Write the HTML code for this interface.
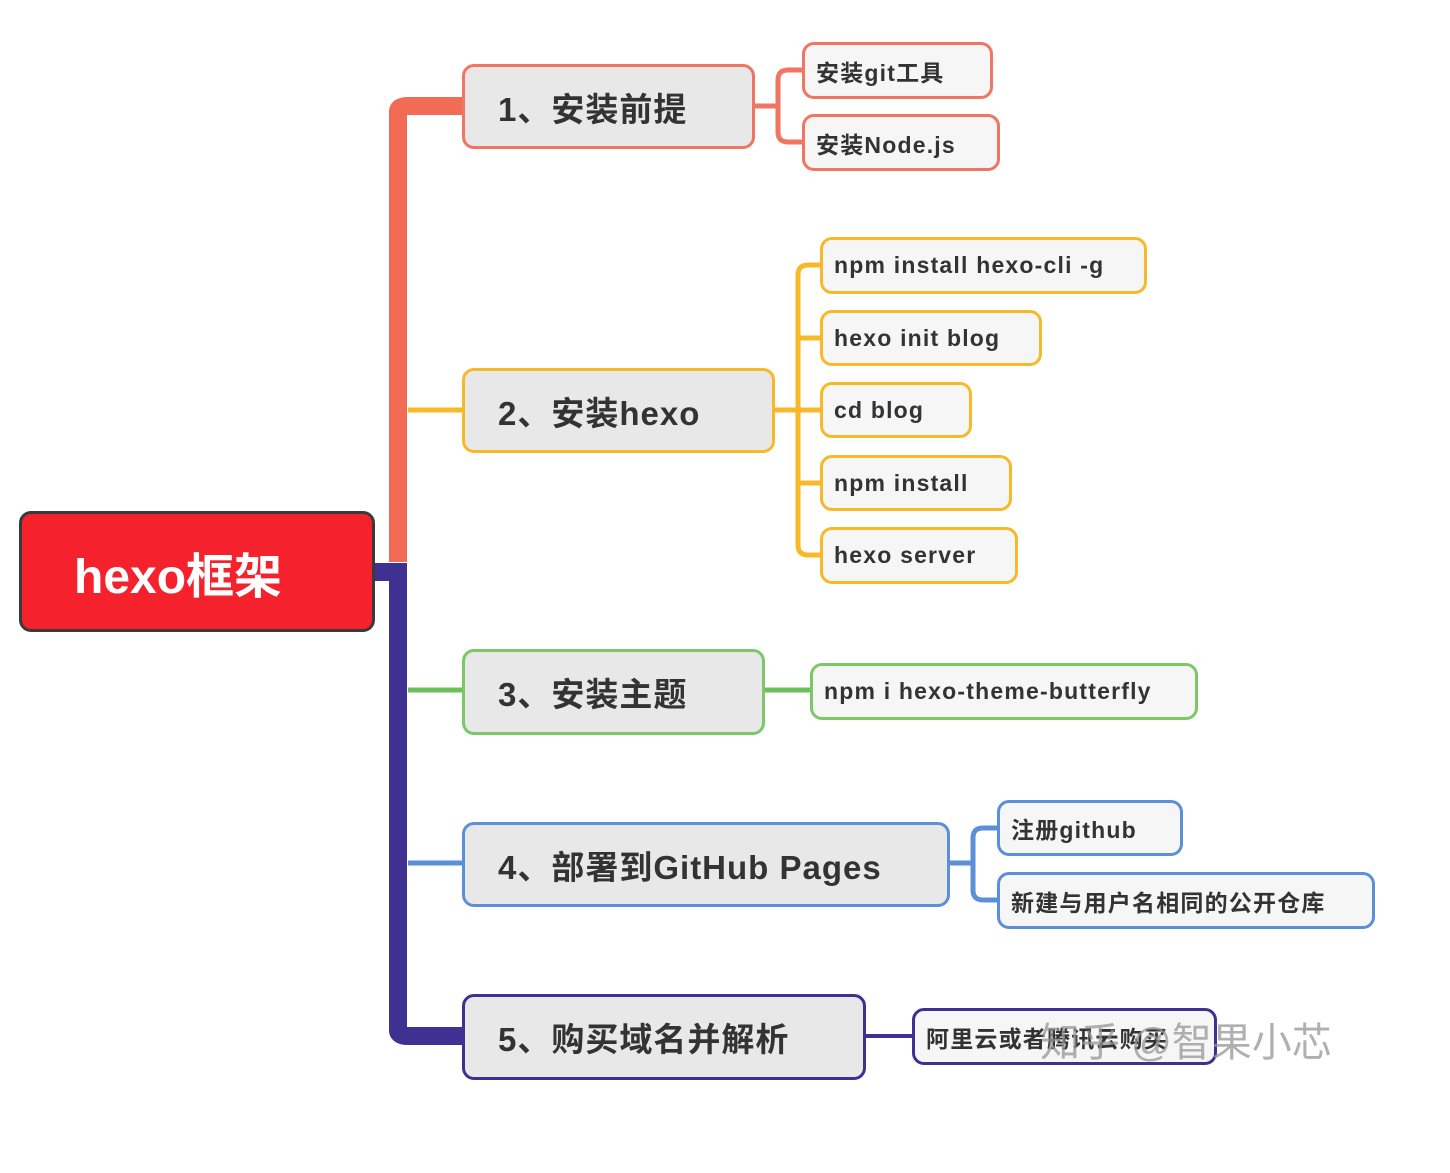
<!DOCTYPE html>
<html><head><meta charset="utf-8"><style>
html,body{margin:0;padding:0;background:#fff;width:1450px;height:1173px;overflow:hidden;position:relative;font-family:"Liberation Sans","Noto Sans CJK SC",sans-serif;}
.n{position:absolute;box-sizing:border-box;border-radius:12px;display:flex;align-items:center;font-weight:bold;color:#333;white-space:nowrap;}
.l1{background:#e8e8e8;border:3px solid;font-size:33px;padding-left:33px;letter-spacing:1px;}
.l2{background:#f6f6f6;border:3px solid;font-size:23px;padding-left:11px;letter-spacing:1.2px;}
svg{position:absolute;left:0;top:0;}
</style></head><body>
<svg width="1450" height="1173" fill="none">
<path d="M398 562 V112 Q398 106 408 106 H462" stroke="#f26b55" stroke-width="18"/>
<path d="M408 106 H462" stroke="#f26b55" stroke-width="5"/>
<path d="M375 572 H398 V1030 Q398 1036 408 1036 H462" stroke="#3f3191" stroke-width="18"/>
<path d="M408 410 H462" stroke="#f7b928" stroke-width="5"/>
<path d="M408 690 H462" stroke="#6cc05a" stroke-width="5"/>
<path d="M408 863 H462" stroke="#5b8fd8" stroke-width="5"/>
<path d="M755 106 H778 M802 70 H788 Q778 70 778 80 V132 Q778 142 788 142 H802" stroke="#f07562" stroke-width="5"/>
<path d="M775 410 H798 M820 265 H808 Q798 265 798 275 V545 Q798 555 808 555 H820 M798 338 H820 M798 410 H820 M798 483 H820" stroke="#f7b928" stroke-width="5"/>
<path d="M765 690 H810" stroke="#6cc05a" stroke-width="5"/>
<path d="M950 863 H973 M997 828 H983 Q973 828 973 838 V890 Q973 900 983 900 H997" stroke="#5b8fd8" stroke-width="5"/>
<path d="M866 1036 H912" stroke="#3f3191" stroke-width="4"/>
</svg>
<div class="n" style="left:19px;top:511px;width:356px;height:121px;background:#f5212d;border:3px solid #3a3a3a;color:#fff;font-size:48px;padding-left:52px;">hexo框架</div>
<div class="n l1" style="left:462px;top:64px;width:293px;height:85px;border-color:#f07562;">1、安装前提</div>
<div class="n l1" style="left:462px;top:368px;width:313px;height:85px;border-color:#f7b928;">2、安装hexo</div>
<div class="n l1" style="left:462px;top:649px;width:303px;height:86px;border-color:#7cc868;">3、安装主题</div>
<div class="n l1" style="left:462px;top:822px;width:488px;height:85px;border-color:#5b8fd8;">4、部署到GitHub Pages</div>
<div class="n l1" style="left:462px;top:994px;width:404px;height:86px;border-color:#3f3191;">5、购买域名并解析</div>
<div class="n l2" style="left:802px;top:42px;width:191px;height:57px;border-color:#f07562;">安装git工具</div>
<div class="n l2" style="left:802px;top:114px;width:198px;height:57px;border-color:#f07562;">安装Node.js</div>
<div class="n l2" style="left:820px;top:237px;width:327px;height:57px;border-color:#f7b928;">npm install hexo-cli -g</div>
<div class="n l2" style="left:820px;top:310px;width:222px;height:56px;border-color:#f7b928;">hexo init blog</div>
<div class="n l2" style="left:820px;top:382px;width:152px;height:56px;border-color:#f7b928;">cd blog</div>
<div class="n l2" style="left:820px;top:455px;width:192px;height:56px;border-color:#f7b928;">npm install</div>
<div class="n l2" style="left:820px;top:527px;width:198px;height:57px;border-color:#f7b928;">hexo server</div>
<div class="n l2" style="left:810px;top:663px;width:388px;height:57px;border-color:#7cc868;">npm i hexo-theme-butterfly</div>
<div class="n l2" style="left:997px;top:800px;width:186px;height:56px;border-color:#5b8fd8;">注册github</div>
<div class="n l2" style="left:997px;top:872px;width:378px;height:57px;border-color:#5b8fd8;">新建与用户名相同的公开仓库</div>
<div class="n l2" style="left:912px;top:1008px;width:305px;height:57px;border-color:#3f3191;">阿里云或者腾讯云购买</div>
<div style="position:absolute;left:1040px;top:1010px;font-size:40px;color:rgba(150,150,150,0.75);white-space:nowrap;">知乎 @智果小芯</div>
</body></html>
